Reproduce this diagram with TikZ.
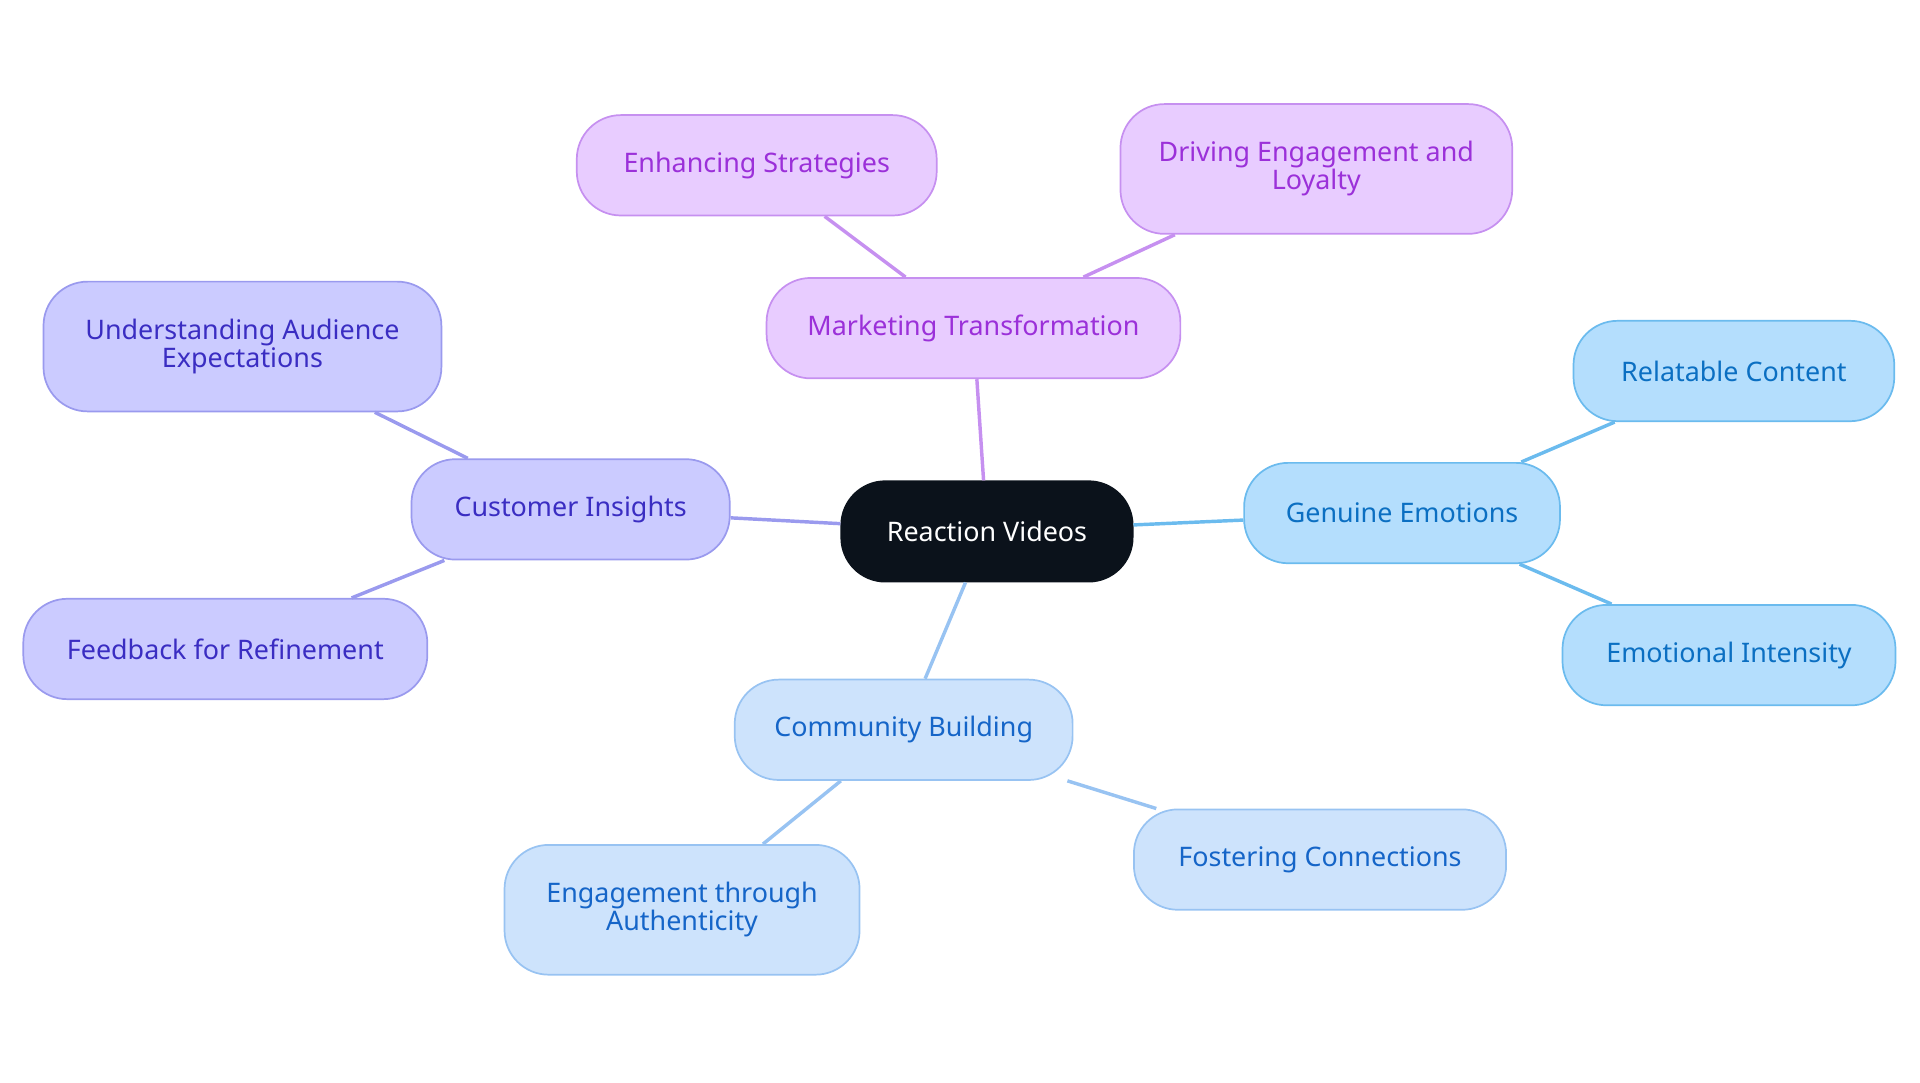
\documentclass[tikz,border=0pt]{standalone}
\usepackage{fontspec}
\setmainfont{Noto Sans}
\usetikzlibrary{positioning}
\definecolor{rootfill}{HTML}{0B121B}
\definecolor{mfill}{HTML}{E8CCFF}\definecolor{mline}{HTML}{C690F0}\definecolor{mtext}{HTML}{9B30D9}
\definecolor{cfill}{HTML}{CBCBFF}\definecolor{cline}{HTML}{9A9AEE}\definecolor{ctext}{HTML}{3A2DC2}
\definecolor{gfill}{HTML}{B4DEFD}\definecolor{gline}{HTML}{6BBBEE}\definecolor{gtext}{HTML}{0B6FC2}
\definecolor{bfill}{HTML}{CDE3FC}\definecolor{bline}{HTML}{98C3F2}\definecolor{btext}{HTML}{1565C8}
\tikzset{
  box/.style={rounded corners=0.72cm, draw, line width=0.8pt, align=center, font=\fontsize{12.5}{13}\selectfont, minimum height=1.64cm, inner sep=2pt},
  mbox/.style={box, fill=mfill, draw=mline, text=mtext},
  cbox/.style={box, fill=cfill, draw=cline, text=ctext},
  gbox/.style={box, fill=gfill, draw=gline, text=gtext},
  bbox/.style={box, fill=bfill, draw=bline, text=btext},
  tall/.style={minimum height=2.12cm},
  link/.style={line width=1.6pt}
}
\begin{document}
\begin{tikzpicture}[x=0.02cm,y=-0.02cm]
\useasboundingbox (0,0) rectangle (1568,884);
% links first
\coordinate (r) at (806,434);
\node[box, fill=rootfill, draw=rootfill, text=white, minimum width=4.76cm] (root) at (806,434) {Reaction Videos};
\node[mbox, minimum width=6.76cm] (mark) at (795,268) {Marketing Transformation};
\node[mbox, minimum width=5.88cm] (enh) at (618,135) {Enhancing Strategies};
\node[mbox, tall, minimum width=6.4cm] (drive) at (1075,138) {Driving Engagement and\\Loyalty};
\node[cbox, minimum width=5.2cm] (cust) at (466,416) {Customer Insights};
\node[cbox, tall, minimum width=6.5cm] (under) at (198,283) {Understanding Audience\\Expectations};
\node[cbox, minimum width=6.6cm] (feed) at (184,530) {Feedback for Refinement};
\node[gbox, minimum width=5.16cm] (gen) at (1145,419) {Genuine Emotions};
\node[gbox, minimum width=5.24cm] (rel) at (1416,303) {Relatable Content};
\node[gbox, minimum width=5.44cm] (emo) at (1412,535) {Emotional Intensity};
\node[bbox, minimum width=5.52cm] (comm) at (738,596) {Community Building};
\node[bbox, tall, minimum width=5.8cm] (auth) at (557,743) {Engagement through\\Authenticity};
\node[bbox, minimum width=6.08cm] (fost) at (1078,702) {Fostering Connections};
\draw[link, mline] (root) -- (mark);
\draw[link, mline] (mark) -- (enh);
\draw[link, mline] (mark) -- (drive);
\draw[link, cline] (root) -- (cust);
\draw[link, cline] (cust) -- (under);
\draw[link, cline] (cust) -- (feed);
\draw[link, gline] (root) -- (gen);
\draw[link, gline] (gen) -- (rel);
\draw[link, gline] (gen) -- (emo);
\draw[link, bline] (root) -- (comm);
\draw[link, bline] (comm) -- (auth);
\draw[link, bline] (comm) -- (fost);
\end{tikzpicture}
\end{document}
